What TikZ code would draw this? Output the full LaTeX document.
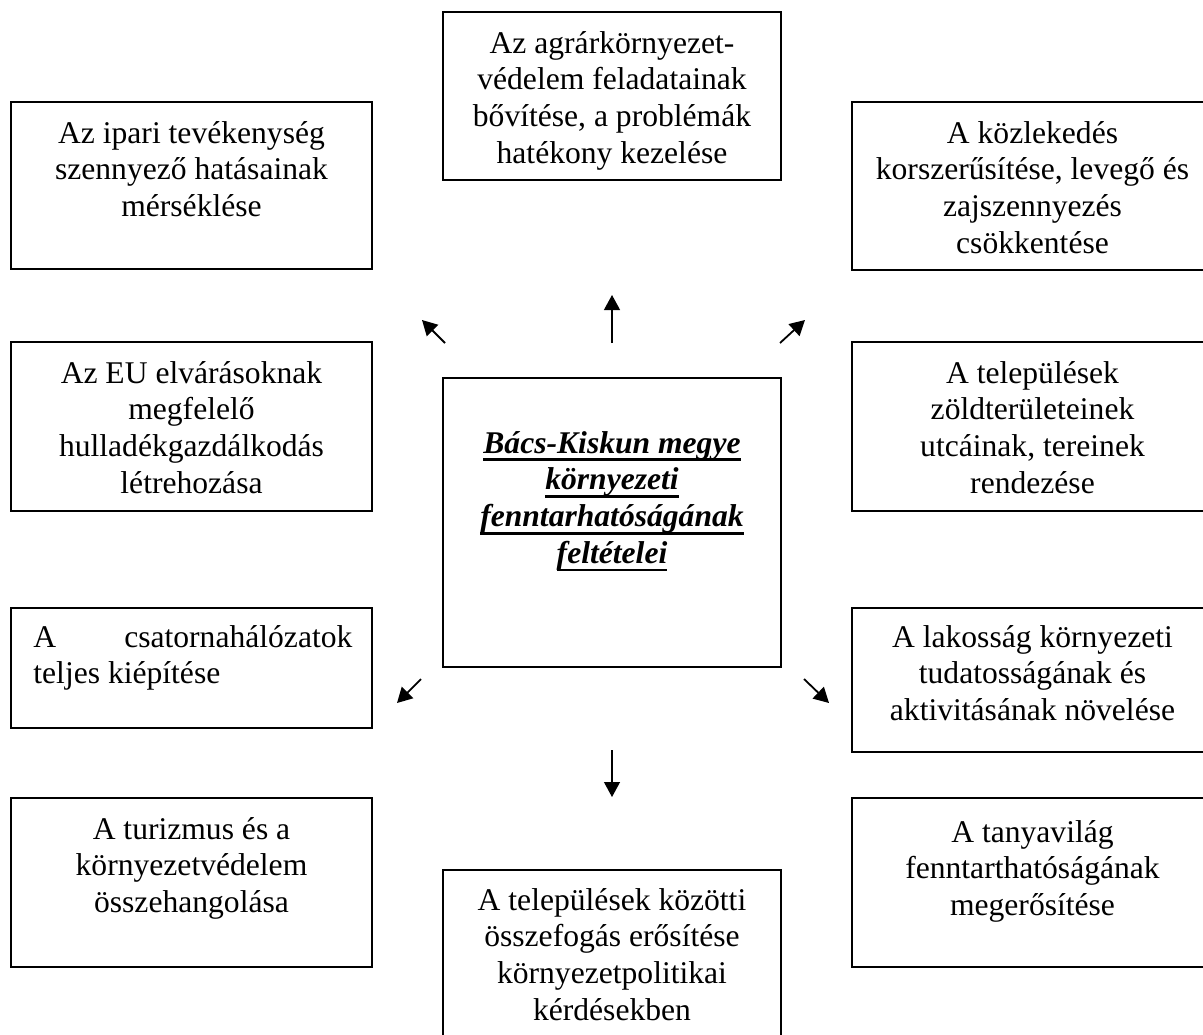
\documentclass[tikz,border=0pt]{standalone}
\usepackage{fontspec}
\setmainfont{Liberation Serif}
\usetikzlibrary{arrows.meta,fit}
\newcommand\myul[1]{\leavevmode\setbox0=\hbox{#1}\rlap{\rule[-4pt]{\wd0}{1.4pt}}\box0}
\newcommand\boxtext[1]{\parbox[t]{176pt}{\centering\fontsize{15.8pt}{18.4pt}\selectfont #1}}
\tikzset{
  frame/.style={draw, line width=0.6pt, inner sep=0pt},
  txt/.style={anchor=base, inner sep=0pt},
  arr/.style={line width=0.6pt, -{Triangle[length=7.5pt,width=8pt]}},
  diag/.style={line width=0.9pt, -{Triangle[length=7.5pt,width=8pt]}},
}
\begin{document}
\begin{tikzpicture}[x=0.5pt,y=-0.5pt]
\useasboundingbox (0,0) rectangle (1203,1034);
% frames
\node[frame, fit={(443,12) (781,180)}] (tc) {};
\node[frame, fit={(11,102) (372,269)}] (tl) {};
\node[frame, fit={(852,102) (1213,270)}] (tr) {};
\node[frame, fit={(11,342) (372,511)}] (l2) {};
\node[frame, fit={(852,342) (1213,511)}] (r2) {};
\node[frame, fit={(443,378) (781,667)}] (c) {};
\node[frame, fit={(11,608) (372,728)}] (l3) {};
\node[frame, fit={(852,608) (1213,752)}] (r3) {};
\node[frame, fit={(11,798) (372,967)}] (bl) {};
\node[frame, fit={(852,798) (1213,967)}] (br) {};
\node[frame, fit={(443,870) (781,1060)}] (bc) {};
% texts
\node[txt] (tc-t) at (612,53) {\boxtext{Az agrárkörnyezet-\\védelem feladatainak\\bővítése, a problémák\\hatékony kezelése}};
\node[txt] (tl-t) at (191.5,143) {\boxtext{Az ipari tevékenység\\szennyező hatásainak\\mérséklése}};
\node[txt] (tr-t) at (1032.5,143) {\boxtext{A közlekedés\\korszerűsítése, levegő és\\zajszennyezés\\csökkentése}};
\node[txt] (l2-t) at (191.5,383) {\boxtext{Az EU elvárásoknak\\megfelelő\\hulladékgazdálkodás\\létrehozása}};
\node[txt] (r2-t) at (1032.5,383) {\boxtext{A települések\\zöldterületeinek\\utcáinak, tereinek\\rendezése}};
\node[txt] (c-t) at (612,453) {\boxtext{\bfseries\itshape \myul{Bács-Kiskun megye}\\\myul{környezeti}\\\myul{fenntarhatóságának}\\\myul{feltételei}}};
\node[txt, anchor=base west] (l3-t) at (33,647) {\parbox[t]{159.5pt}{\fontsize{15.8pt}{18.4pt}\selectfont A\hfill csatornahálózatok\\teljes kiépítése}};
\node[txt] (r3-t) at (1032.5,647) {\boxtext{A lakosság környezeti\\tudatosságának és\\aktivitásának növelése}};
\node[txt] (bl-t) at (191.5,839) {\boxtext{A turizmus és a\\környezetvédelem\\összehangolása}};
\node[txt] (br-t) at (1032.5,842) {\boxtext{A tanyavilág\\fenntarthatóságának\\megerősítése}};
\node[txt] (bc-t) at (612,910) {\boxtext{A települések közötti\\összefogás erősítése\\környezetpolitikai\\kérdésekben}};
% arrow coordinates
\coordinate (a1s) at (612,343); \coordinate (a1e) at (612,295);
\coordinate (a2s) at (445,343); \coordinate (a2e) at (422,320);
\coordinate (a3s) at (780,343); \coordinate (a3e) at (805,320);
\coordinate (a4s) at (421,679); \coordinate (a4e) at (397,703);
\coordinate (a5s) at (804,679); \coordinate (a5e) at (829,703);
\coordinate (a6s) at (612,750); \coordinate (a6e) at (612,797);
\draw[arr] (a1s) -- (a1e);
\draw[diag] (a2s) -- (a2e);
\draw[diag] (a3s) -- (a3e);
\draw[diag] (a4s) -- (a4e);
\draw[diag] (a5s) -- (a5e);
\draw[arr] (a6s) -- (a6e);
\end{tikzpicture}
\end{document}
